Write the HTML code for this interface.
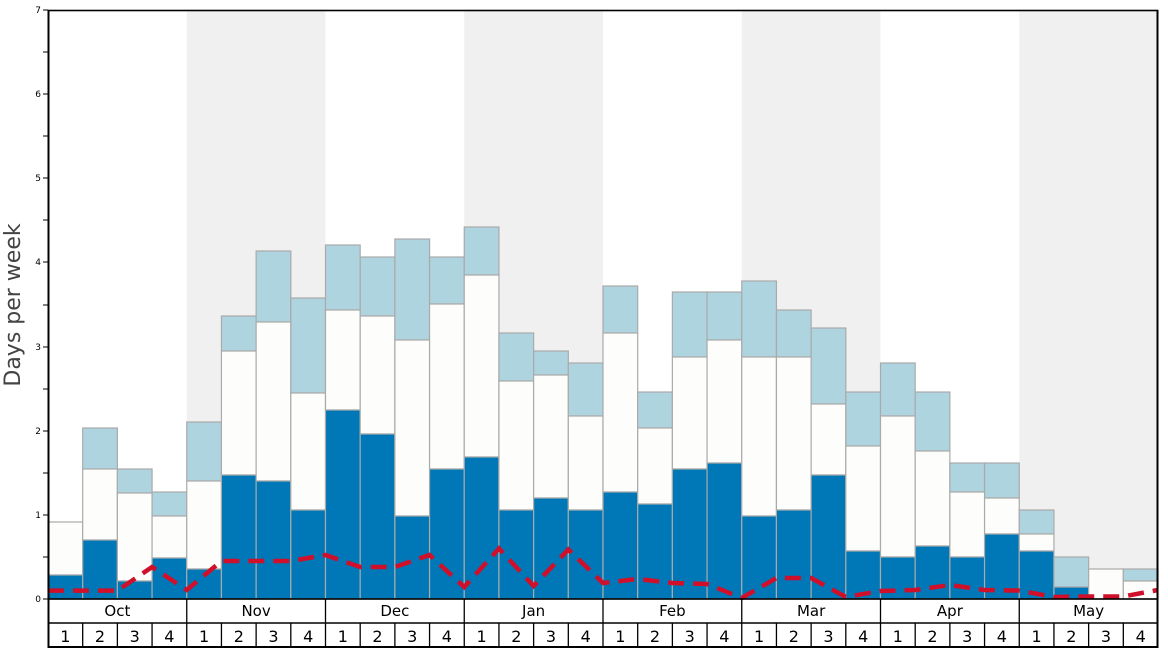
<!DOCTYPE html>
<html><head><meta charset="utf-8"><style>html,body{margin:0;padding:0;background:#fff}svg{display:block}</style></head>
<body>
<svg width="1168" height="648" viewBox="0 0 1168 648" xmlns="http://www.w3.org/2000/svg" font-family="DejaVu Sans, Liberation Sans, sans-serif">
<rect x="0" y="0" width="1168" height="648" fill="#fff"/>
<g fill="#f0f0f0">
<rect x="186.75" y="10" width="138.75" height="589"/>
<rect x="464.25" y="10" width="138.75" height="589"/>
<rect x="741.75" y="10" width="138.75" height="589"/>
<rect x="1019.25" y="10" width="138.75" height="589"/>
</g>
<g stroke="#aaa" stroke-width="1.2">
<!-- light, white, dark per bar -->
<rect x="48" y="522" width="34.69" height="0" fill="#aed4df"/><rect x="48" y="522" width="34.69" height="53" fill="#fdfdfb"/><rect x="48" y="575" width="34.69" height="24" fill="#0077b6"/>
<rect x="82.69" y="428" width="34.69" height="41" fill="#aed4df"/><rect x="82.69" y="469" width="34.69" height="71" fill="#fdfdfb"/><rect x="82.69" y="540" width="34.69" height="59" fill="#0077b6"/>
<rect x="117.38" y="469" width="34.69" height="24" fill="#aed4df"/><rect x="117.38" y="493" width="34.69" height="88" fill="#fdfdfb"/><rect x="117.38" y="581" width="34.69" height="18" fill="#0077b6"/>
<rect x="152.06" y="492" width="34.69" height="24" fill="#aed4df"/><rect x="152.06" y="516" width="34.69" height="42" fill="#fdfdfb"/><rect x="152.06" y="558" width="34.69" height="41" fill="#0077b6"/>
<rect x="186.75" y="422" width="34.69" height="59" fill="#aed4df"/><rect x="186.75" y="481" width="34.69" height="88" fill="#fdfdfb"/><rect x="186.75" y="569" width="34.69" height="30" fill="#0077b6"/>
<rect x="221.44" y="316" width="34.69" height="35" fill="#aed4df"/><rect x="221.44" y="351" width="34.69" height="124" fill="#fdfdfb"/><rect x="221.44" y="475" width="34.69" height="124" fill="#0077b6"/>
<rect x="256.13" y="251" width="34.69" height="71" fill="#aed4df"/><rect x="256.13" y="322" width="34.69" height="159" fill="#fdfdfb"/><rect x="256.13" y="481" width="34.69" height="118" fill="#0077b6"/>
<rect x="290.81" y="298" width="34.69" height="95" fill="#aed4df"/><rect x="290.81" y="393" width="34.69" height="117" fill="#fdfdfb"/><rect x="290.81" y="510" width="34.69" height="89" fill="#0077b6"/>
<rect x="325.5" y="245" width="34.69" height="65" fill="#aed4df"/><rect x="325.5" y="310" width="34.69" height="100" fill="#fdfdfb"/><rect x="325.5" y="410" width="34.69" height="189" fill="#0077b6"/>
<rect x="360.19" y="257" width="34.69" height="59" fill="#aed4df"/><rect x="360.19" y="316" width="34.69" height="118" fill="#fdfdfb"/><rect x="360.19" y="434" width="34.69" height="165" fill="#0077b6"/>
<rect x="394.88" y="239" width="34.69" height="101" fill="#aed4df"/><rect x="394.88" y="340" width="34.69" height="176" fill="#fdfdfb"/><rect x="394.88" y="516" width="34.69" height="83" fill="#0077b6"/>
<rect x="429.56" y="257" width="34.69" height="47" fill="#aed4df"/><rect x="429.56" y="304" width="34.69" height="165" fill="#fdfdfb"/><rect x="429.56" y="469" width="34.69" height="130" fill="#0077b6"/>
<rect x="464.25" y="227" width="34.69" height="48" fill="#aed4df"/><rect x="464.25" y="275" width="34.69" height="182" fill="#fdfdfb"/><rect x="464.25" y="457" width="34.69" height="142" fill="#0077b6"/>
<rect x="498.94" y="333" width="34.69" height="48" fill="#aed4df"/><rect x="498.94" y="381" width="34.69" height="129" fill="#fdfdfb"/><rect x="498.94" y="510" width="34.69" height="89" fill="#0077b6"/>
<rect x="533.63" y="351" width="34.69" height="24" fill="#aed4df"/><rect x="533.63" y="375" width="34.69" height="123" fill="#fdfdfb"/><rect x="533.63" y="498" width="34.69" height="101" fill="#0077b6"/>
<rect x="568.31" y="363" width="34.69" height="53" fill="#aed4df"/><rect x="568.31" y="416" width="34.69" height="94" fill="#fdfdfb"/><rect x="568.31" y="510" width="34.69" height="89" fill="#0077b6"/>
<rect x="603" y="286" width="34.69" height="47" fill="#aed4df"/><rect x="603" y="333" width="34.69" height="159" fill="#fdfdfb"/><rect x="603" y="492" width="34.69" height="107" fill="#0077b6"/>
<rect x="637.69" y="392" width="34.69" height="36" fill="#aed4df"/><rect x="637.69" y="428" width="34.69" height="76" fill="#fdfdfb"/><rect x="637.69" y="504" width="34.69" height="95" fill="#0077b6"/>
<rect x="672.38" y="292" width="34.69" height="65" fill="#aed4df"/><rect x="672.38" y="357" width="34.69" height="112" fill="#fdfdfb"/><rect x="672.38" y="469" width="34.69" height="130" fill="#0077b6"/>
<rect x="707.06" y="292" width="34.69" height="48" fill="#aed4df"/><rect x="707.06" y="340" width="34.69" height="123" fill="#fdfdfb"/><rect x="707.06" y="463" width="34.69" height="136" fill="#0077b6"/>
<rect x="741.75" y="281" width="34.69" height="76" fill="#aed4df"/><rect x="741.75" y="357" width="34.69" height="159" fill="#fdfdfb"/><rect x="741.75" y="516" width="34.69" height="83" fill="#0077b6"/>
<rect x="776.44" y="310" width="34.69" height="47" fill="#aed4df"/><rect x="776.44" y="357" width="34.69" height="153" fill="#fdfdfb"/><rect x="776.44" y="510" width="34.69" height="89" fill="#0077b6"/>
<rect x="811.13" y="328" width="34.69" height="76" fill="#aed4df"/><rect x="811.13" y="404" width="34.69" height="71" fill="#fdfdfb"/><rect x="811.13" y="475" width="34.69" height="124" fill="#0077b6"/>
<rect x="845.81" y="392" width="34.69" height="54" fill="#aed4df"/><rect x="845.81" y="446" width="34.69" height="105" fill="#fdfdfb"/><rect x="845.81" y="551" width="34.69" height="48" fill="#0077b6"/>
<rect x="880.5" y="363" width="34.69" height="53" fill="#aed4df"/><rect x="880.5" y="416" width="34.69" height="141" fill="#fdfdfb"/><rect x="880.5" y="557" width="34.69" height="42" fill="#0077b6"/>
<rect x="915.19" y="392" width="34.69" height="59" fill="#aed4df"/><rect x="915.19" y="451" width="34.69" height="95" fill="#fdfdfb"/><rect x="915.19" y="546" width="34.69" height="53" fill="#0077b6"/>
<rect x="949.88" y="463" width="34.69" height="29" fill="#aed4df"/><rect x="949.88" y="492" width="34.69" height="65" fill="#fdfdfb"/><rect x="949.88" y="557" width="34.69" height="42" fill="#0077b6"/>
<rect x="984.56" y="463" width="34.69" height="35" fill="#aed4df"/><rect x="984.56" y="498" width="34.69" height="36" fill="#fdfdfb"/><rect x="984.56" y="534" width="34.69" height="65" fill="#0077b6"/>
<rect x="1019.25" y="510" width="34.69" height="24" fill="#aed4df"/><rect x="1019.25" y="534" width="34.69" height="17" fill="#fdfdfb"/><rect x="1019.25" y="551" width="34.69" height="48" fill="#0077b6"/>
<rect x="1053.94" y="557" width="34.69" height="30" fill="#aed4df"/><rect x="1053.94" y="587" width="34.69" height="12" fill="#0077b6"/>
<rect x="1088.63" y="569" width="34.69" height="30" fill="#fdfdfb"/>
<rect x="1123.31" y="569" width="34.69" height="12" fill="#aed4df"/><rect x="1123.31" y="581" width="34.69" height="18" fill="#fdfdfb"/>
</g>
<polyline fill="none" stroke="#d0102a" stroke-width="4.5" stroke-dasharray="16,9" points="48,590.6 82.69,590.6 117.38,590.6 152.06,567 186.75,590 221.44,561 256.13,561 290.81,561 325.5,555 360.19,567 394.88,567 429.56,555 464.25,587 498.94,548.5 533.63,586 568.31,549.5 603,583 637.69,579 672.38,583 707.06,584 741.75,598 776.44,578 811.13,578 845.81,597 880.5,591 915.19,590 949.88,585 984.56,590 1019.25,590.6 1053.94,597 1088.63,596.5 1123.31,596.5 1158,590"/>
<!-- frame -->
<rect x="48.5" y="10.5" width="1109" height="588.5" fill="none" stroke="#000" stroke-width="1.6"/>
<line x1="48.5" y1="10" x2="48.5" y2="648" stroke="#000" stroke-width="2"/>
<line x1="1157.5" y1="10" x2="1157.5" y2="648" stroke="#000" stroke-width="2"/>
<line x1="48" y1="623" x2="1158" y2="623" stroke="#000" stroke-width="1.5"/>
<line x1="48" y1="647" x2="1158" y2="647" stroke="#000" stroke-width="2"/>
<g stroke="#000" stroke-width="1.3">
<line x1="186.75" y1="599" x2="186.75" y2="647"/><line x1="325.5" y1="599" x2="325.5" y2="647"/><line x1="464.25" y1="599" x2="464.25" y2="647"/><line x1="603" y1="599" x2="603" y2="647"/><line x1="741.75" y1="599" x2="741.75" y2="647"/><line x1="880.5" y1="599" x2="880.5" y2="647"/><line x1="1019.25" y1="599" x2="1019.25" y2="647"/>
<line x1="82.69" y1="623" x2="82.69" y2="647"/><line x1="117.38" y1="623" x2="117.38" y2="647"/><line x1="152.06" y1="623" x2="152.06" y2="647"/>
<line x1="221.44" y1="623" x2="221.44" y2="647"/><line x1="256.13" y1="623" x2="256.13" y2="647"/><line x1="290.81" y1="623" x2="290.81" y2="647"/>
<line x1="360.19" y1="623" x2="360.19" y2="647"/><line x1="394.88" y1="623" x2="394.88" y2="647"/><line x1="429.56" y1="623" x2="429.56" y2="647"/>
<line x1="498.94" y1="623" x2="498.94" y2="647"/><line x1="533.63" y1="623" x2="533.63" y2="647"/><line x1="568.31" y1="623" x2="568.31" y2="647"/>
<line x1="637.69" y1="623" x2="637.69" y2="647"/><line x1="672.38" y1="623" x2="672.38" y2="647"/><line x1="707.06" y1="623" x2="707.06" y2="647"/>
<line x1="776.44" y1="623" x2="776.44" y2="647"/><line x1="811.13" y1="623" x2="811.13" y2="647"/><line x1="845.81" y1="623" x2="845.81" y2="647"/>
<line x1="915.19" y1="623" x2="915.19" y2="647"/><line x1="949.88" y1="623" x2="949.88" y2="647"/><line x1="984.56" y1="623" x2="984.56" y2="647"/>
<line x1="1053.94" y1="623" x2="1053.94" y2="647"/><line x1="1088.63" y1="623" x2="1088.63" y2="647"/><line x1="1123.31" y1="623" x2="1123.31" y2="647"/>
</g>
<!-- y ticks -->
<g stroke="#000" stroke-width="1">
<line x1="43" y1="599" x2="48" y2="599"/><line x1="43" y1="557" x2="48" y2="557"/><line x1="43" y1="515" x2="48" y2="515"/><line x1="43" y1="473" x2="48" y2="473"/><line x1="43" y1="431" x2="48" y2="431"/><line x1="43" y1="389" x2="48" y2="389"/><line x1="43" y1="347" x2="48" y2="347"/><line x1="43" y1="305" x2="48" y2="305"/><line x1="43" y1="262" x2="48" y2="262"/><line x1="43" y1="220" x2="48" y2="220"/><line x1="43" y1="178" x2="48" y2="178"/><line x1="43" y1="136" x2="48" y2="136"/><line x1="43" y1="94" x2="48" y2="94"/><line x1="43" y1="52" x2="48" y2="52"/><line x1="43" y1="10" x2="48" y2="10"/>
</g>
<g font-size="9" text-anchor="end" fill="#000">
<text x="41" y="602">0</text><text x="41" y="518">1</text><text x="41" y="434">2</text><text x="41" y="350">3</text><text x="41" y="265">4</text><text x="41" y="181">5</text><text x="41" y="97">6</text><text x="41" y="13">7</text>
</g>
<text transform="translate(20,305) rotate(-90)" font-size="22" text-anchor="middle" fill="#444">Days per week</text>
<g font-size="15" text-anchor="middle" fill="#000">
<text x="117.4" y="616">Oct</text><text x="256.1" y="616">Nov</text><text x="394.9" y="616">Dec</text><text x="533.6" y="616">Jan</text><text x="672.4" y="616">Feb</text><text x="811.1" y="616">Mar</text><text x="949.9" y="616">Apr</text><text x="1088.6" y="616">May</text>
</g>
<g font-size="16" text-anchor="middle" fill="#000">
<text x="65.3" y="642">1</text><text x="100" y="642">2</text><text x="134.7" y="642">3</text><text x="169.4" y="642">4</text>
<text x="204.1" y="642">1</text><text x="238.8" y="642">2</text><text x="273.5" y="642">3</text><text x="308.2" y="642">4</text>
<text x="342.8" y="642">1</text><text x="377.5" y="642">2</text><text x="412.2" y="642">3</text><text x="446.9" y="642">4</text>
<text x="481.6" y="642">1</text><text x="516.3" y="642">2</text><text x="551" y="642">3</text><text x="585.7" y="642">4</text>
<text x="620.3" y="642">1</text><text x="655" y="642">2</text><text x="689.7" y="642">3</text><text x="724.4" y="642">4</text>
<text x="759.1" y="642">1</text><text x="793.8" y="642">2</text><text x="828.5" y="642">3</text><text x="863.2" y="642">4</text>
<text x="897.8" y="642">1</text><text x="932.5" y="642">2</text><text x="967.2" y="642">3</text><text x="1001.9" y="642">4</text>
<text x="1036.6" y="642">1</text><text x="1071.3" y="642">2</text><text x="1106" y="642">3</text><text x="1140.7" y="642">4</text>
</g>
</svg>
</body></html>
